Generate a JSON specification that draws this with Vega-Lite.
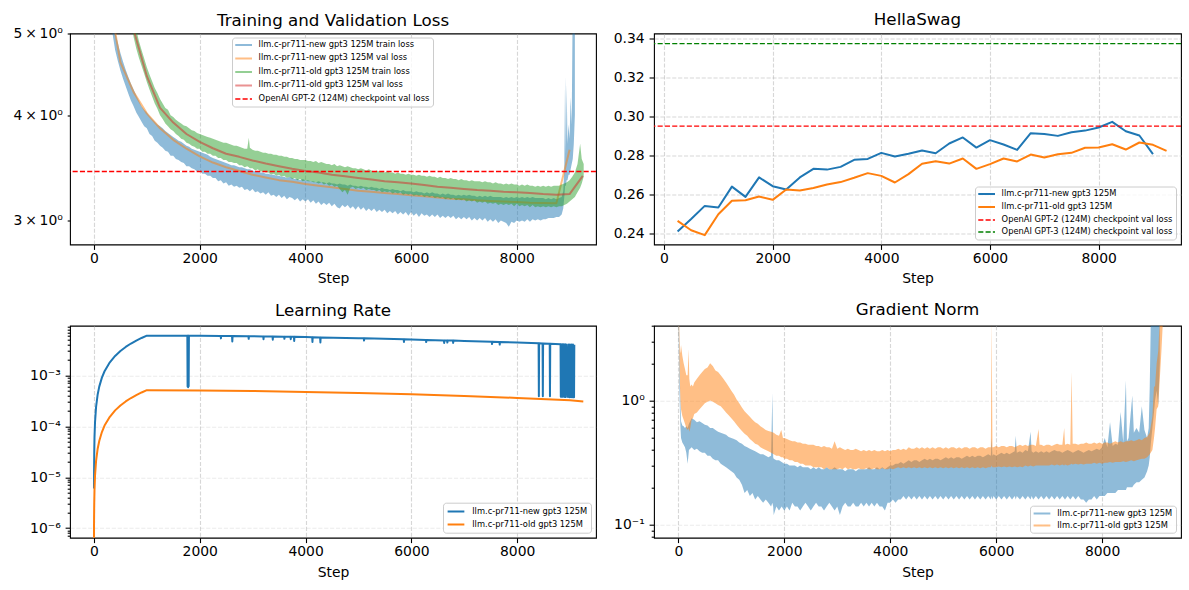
{
"$schema":"https://vega.github.io/schema/vega-lite/v6.json",
"padding":{"left":9,"top":10.5,"right":5,"bottom":5},
"background":"white",
"config":{
 "font":"DejaVu Sans",
 "view":{"stroke":"black","strokeWidth":1.1},
 "axis":{"labelFont":"DejaVu Sans","labelFontSize":13.9,"labelColor":"black","titleFont":"DejaVu Sans","titleFontSize":13.9,"titleFontWeight":"normal","titleColor":"black","tickColor":"black","tickWidth":1.1,"tickSize":4.9,"labelPadding":4.9,"domain":false,"grid":true,"gridColor":"#b0b0b0","gridOpacity":0.5,"gridWidth":1.1,"gridDash":[4.1,1.8],"labelFlush":false,"labelOverlap":false,"titlePadding":5},
 "axisX":{"labelPadding":2,"titlePadding":6.5},
 "title":{"font":"DejaVu Sans","fontSize":16.7,"fontWeight":"normal","color":"black","anchor":"middle","baseline":"alphabetic","offset":8.7},
 "legend":{"labelFont":"DejaVu Sans","labelFontSize":8.3,"labelColor":"black","fillColor":"rgba(255,255,255,0.8)","strokeColor":"#cccccc","cornerRadius":3,"padding":3.3,"symbolSize":70,"labelOffset":15,"rowPadding":3,"labelLimit":300,"symbolStrokeWidth":2,"symbolType":"M-1,0H3","title":null}
},
"datasets":{
"trainloss":[
{"s":"a","x":350,"l":5.0,"h":5.5},{"s":"a","x":400,"l":4.78,"h":5.02},{"s":"a","x":450,"l":4.64,"h":4.88},{"s":"a","x":500,"l":4.52,"h":4.74},{"s":"a","x":550,"l":4.42,"h":4.63},{"s":"a","x":600,"l":4.33,"h":4.53},{"s":"a","x":650,"l":4.24,"h":4.44},{"s":"a","x":700,"l":4.16,"h":4.36},{"s":"a","x":750,"l":4.1,"h":4.29},{"s":"a","x":800,"l":4.03,"h":4.22},{"s":"a","x":850,"l":3.98,"h":4.16},{"s":"a","x":900,"l":3.93,"h":4.1},{"s":"a","x":950,"l":3.88,"h":4.06},{"s":"a","x":1000,"l":3.86,"h":4.03},{"s":"a","x":1050,"l":3.8,"h":3.99},{"s":"a","x":1100,"l":3.78,"h":3.96},{"s":"a","x":1150,"l":3.73,"h":3.93},{"s":"a","x":1200,"l":3.71,"h":3.9},{"s":"a","x":1250,"l":3.68,"h":3.88},{"s":"a","x":1300,"l":3.66,"h":3.86},{"s":"a","x":1350,"l":3.63,"h":3.83},{"s":"a","x":1400,"l":3.62,"h":3.81},{"s":"a","x":1450,"l":3.58,"h":3.79},{"s":"a","x":1500,"l":3.58,"h":3.77},{"s":"a","x":1550,"l":3.55,"h":3.75},{"s":"a","x":1600,"l":3.54,"h":3.73},{"s":"a","x":1650,"l":3.52,"h":3.72},{"s":"a","x":1700,"l":3.51,"h":3.7},{"s":"a","x":1750,"l":3.48,"h":3.68},{"s":"a","x":1800,"l":3.48,"h":3.67},{"s":"a","x":1850,"l":3.46,"h":3.65},{"s":"a","x":1900,"l":3.45,"h":3.64},{"s":"a","x":1950,"l":3.43,"h":3.63},{"s":"a","x":2000,"l":3.44,"h":3.62},{"s":"a","x":2050,"l":3.41,"h":3.61},{"s":"a","x":2100,"l":3.41,"h":3.6},{"s":"a","x":2150,"l":3.39,"h":3.59},{"s":"a","x":2200,"l":3.39,"h":3.57},{"s":"a","x":2250,"l":3.37,"h":3.56},{"s":"a","x":2300,"l":3.37,"h":3.55},{"s":"a","x":2350,"l":3.34,"h":3.54},{"s":"a","x":2400,"l":3.35,"h":3.53},{"s":"a","x":2450,"l":3.32,"h":3.52},{"s":"a","x":2500,"l":3.33,"h":3.51},{"s":"a","x":2550,"l":3.3,"h":3.5},{"s":"a","x":2600,"l":3.31,"h":3.49},{"s":"a","x":2650,"l":3.29,"h":3.49},{"s":"a","x":2700,"l":3.3,"h":3.48},{"s":"a","x":2750,"l":3.28,"h":3.47},{"s":"a","x":2800,"l":3.29,"h":3.47},{"s":"a","x":2850,"l":3.26,"h":3.46},{"s":"a","x":2900,"l":3.27,"h":3.45},{"s":"a","x":2950,"l":3.25,"h":3.45},{"s":"a","x":3000,"l":3.27,"h":3.44},{"s":"a","x":3050,"l":3.24,"h":3.43},{"s":"a","x":3100,"l":3.25,"h":3.43},{"s":"a","x":3150,"l":3.23,"h":3.42},{"s":"a","x":3200,"l":3.24,"h":3.42},{"s":"a","x":3250,"l":3.22,"h":3.41},{"s":"a","x":3300,"l":3.24,"h":3.41},{"s":"a","x":3350,"l":3.21,"h":3.4},{"s":"a","x":3400,"l":3.22,"h":3.4},{"s":"a","x":3450,"l":3.2,"h":3.39},{"s":"a","x":3500,"l":3.22,"h":3.39},{"s":"a","x":3550,"l":3.19,"h":3.38},{"s":"a","x":3600,"l":3.21,"h":3.38},{"s":"a","x":3650,"l":3.18,"h":3.37},{"s":"a","x":3700,"l":3.2,"h":3.38},{"s":"a","x":3750,"l":3.19,"h":3.37},{"s":"a","x":3800,"l":3.17,"h":3.36},{"s":"a","x":3850,"l":3.19,"h":3.36},{"s":"a","x":3900,"l":3.16,"h":3.35},{"s":"a","x":3950,"l":3.18,"h":3.36},{"s":"a","x":4000,"l":3.16,"h":3.35},{"s":"a","x":4050,"l":3.18,"h":3.35},{"s":"a","x":4100,"l":3.15,"h":3.34},{"s":"a","x":4150,"l":3.17,"h":3.34},{"s":"a","x":4200,"l":3.14,"h":3.33},{"s":"a","x":4250,"l":3.16,"h":3.34},{"s":"a","x":4300,"l":3.13,"h":3.33},{"s":"a","x":4350,"l":3.15,"h":3.33},{"s":"a","x":4400,"l":3.13,"h":3.32},{"s":"a","x":4450,"l":3.15,"h":3.33},{"s":"a","x":4500,"l":3.12,"h":3.32},{"s":"a","x":4550,"l":3.14,"h":3.32},{"s":"a","x":4600,"l":3.11,"h":3.31},{"s":"a","x":4650,"l":3.1,"h":3.32},{"s":"a","x":4700,"l":3.13,"h":3.31},{"s":"a","x":4750,"l":3.11,"h":3.31},{"s":"a","x":4800,"l":3.13,"h":3.3},{"s":"a","x":4850,"l":3.1,"h":3.31},{"s":"a","x":4900,"l":3.12,"h":3.3},{"s":"a","x":4950,"l":3.09,"h":3.3},{"s":"a","x":5000,"l":3.12,"h":3.29},{"s":"a","x":5050,"l":3.09,"h":3.3},{"s":"a","x":5100,"l":3.11,"h":3.29},{"s":"a","x":5150,"l":3.08,"h":3.29},{"s":"a","x":5200,"l":3.1,"h":3.28},{"s":"a","x":5250,"l":3.08,"h":3.29},{"s":"a","x":5300,"l":3.1,"h":3.28},{"s":"a","x":5350,"l":3.07,"h":3.28},{"s":"a","x":5400,"l":3.09,"h":3.27},{"s":"a","x":5450,"l":3.07,"h":3.28},{"s":"a","x":5500,"l":3.09,"h":3.27},{"s":"a","x":5550,"l":3.06,"h":3.27},{"s":"a","x":5600,"l":3.08,"h":3.26},{"s":"a","x":5650,"l":3.06,"h":3.27},{"s":"a","x":5700,"l":3.08,"h":3.26},{"s":"a","x":5750,"l":3.05,"h":3.26},{"s":"a","x":5800,"l":3.07,"h":3.25},{"s":"a","x":5850,"l":3.05,"h":3.26},{"s":"a","x":5900,"l":3.07,"h":3.25},{"s":"a","x":5950,"l":3.04,"h":3.25},{"s":"a","x":6000,"l":3.07,"h":3.25},{"s":"a","x":6050,"l":3.04,"h":3.24},{"s":"a","x":6100,"l":3.06,"h":3.25},{"s":"a","x":6150,"l":3.03,"h":3.24},{"s":"a","x":6200,"l":3.06,"h":3.24},{"s":"a","x":6250,"l":3.04,"h":3.23},{"s":"a","x":6300,"l":3.05,"h":3.24},{"s":"a","x":6350,"l":3.03,"h":3.23},{"s":"a","x":6400,"l":3.05,"h":3.24},{"s":"a","x":6450,"l":3.03,"h":3.23},{"s":"a","x":6500,"l":3.05,"h":3.23},{"s":"a","x":6550,"l":3.02,"h":3.22},{"s":"a","x":6600,"l":3.04,"h":3.23},{"s":"a","x":6650,"l":3.02,"h":3.22},{"s":"a","x":6700,"l":3.04,"h":3.23},{"s":"a","x":6750,"l":3.02,"h":3.22},{"s":"a","x":6800,"l":3.04,"h":3.22},{"s":"a","x":6850,"l":3.01,"h":3.21},{"s":"a","x":6900,"l":3.03,"h":3.22},{"s":"a","x":6950,"l":3.01,"h":3.21},{"s":"a","x":7000,"l":3.03,"h":3.22},{"s":"a","x":7050,"l":3.01,"h":3.21},{"s":"a","x":7100,"l":3.03,"h":3.22},{"s":"a","x":7150,"l":3.0,"h":3.21},{"s":"a","x":7200,"l":3.02,"h":3.21},{"s":"a","x":7250,"l":3.0,"h":3.2},{"s":"a","x":7300,"l":3.02,"h":3.21},{"s":"a","x":7350,"l":3.0,"h":3.2},{"s":"a","x":7400,"l":3.02,"h":3.21},{"s":"a","x":7450,"l":2.99,"h":3.2},{"s":"a","x":7500,"l":3.01,"h":3.21},{"s":"a","x":7550,"l":2.99,"h":3.2},{"s":"a","x":7600,"l":3.01,"h":3.2},{"s":"a","x":7650,"l":2.98,"h":3.2},{"s":"a","x":7700,"l":3.0,"h":3.2},{"s":"a","x":7750,"l":2.99,"h":3.19},{"s":"a","x":7800,"l":2.98,"h":3.2},{"s":"a","x":7850,"l":2.95,"h":3.19},{"s":"a","x":7900,"l":2.99,"h":3.2},{"s":"a","x":7950,"l":2.98,"h":3.19},{"s":"a","x":8000,"l":3.0,"h":3.2},{"s":"a","x":8050,"l":2.99,"h":3.19},{"s":"a","x":8100,"l":3.0,"h":3.2},{"s":"a","x":8150,"l":2.99,"h":3.19},{"s":"a","x":8200,"l":3.01,"h":3.2},{"s":"a","x":8250,"l":2.99,"h":3.19},{"s":"a","x":8300,"l":3.01,"h":3.2},{"s":"a","x":8350,"l":3.0,"h":3.19},{"s":"a","x":8400,"l":3.01,"h":3.19},{"s":"a","x":8450,"l":3.0,"h":3.19},{"s":"a","x":8500,"l":3.01,"h":3.19},{"s":"a","x":8550,"l":3.01,"h":3.18},{"s":"a","x":8600,"l":3.02,"h":3.19},{"s":"a","x":8650,"l":3.02,"h":3.18},{"s":"a","x":8700,"l":3.02,"h":3.19},{"s":"a","x":8750,"l":3.03,"h":3.18},{"s":"a","x":8800,"l":3.03,"h":3.19},{"s":"a","x":8850,"l":3.05,"h":3.2},{"s":"a","x":8880,"l":3.1,"h":3.25},{"s":"a","x":8900,"l":3.2,"h":3.45},{"s":"a","x":8915,"l":3.3,"h":4.45},{"s":"a","x":8930,"l":3.3,"h":3.6},{"s":"a","x":8945,"l":3.35,"h":4.35},{"s":"a","x":8960,"l":3.35,"h":3.7},{"s":"a","x":8980,"l":3.4,"h":3.9},{"s":"a","x":9000,"l":3.4,"h":3.75},{"s":"a","x":9020,"l":3.45,"h":4.2},{"s":"a","x":9040,"l":3.5,"h":3.9},{"s":"a","x":9060,"l":3.55,"h":5.5},{"s":"a","x":9080,"l":3.7,"h":5.5},{"s":"a","x":9100,"l":4.0,"h":5.5},
{"s":"c","x":700,"l":5.15,"h":5.5},{"s":"c","x":750,"l":4.95,"h":5.2},{"s":"c","x":800,"l":4.8,"h":5.05},{"s":"c","x":850,"l":4.68,"h":4.9},{"s":"c","x":900,"l":4.58,"h":4.78},{"s":"c","x":950,"l":4.48,"h":4.67},{"s":"c","x":1000,"l":4.38,"h":4.56},{"s":"c","x":1050,"l":4.29,"h":4.47},{"s":"c","x":1100,"l":4.21,"h":4.39},{"s":"c","x":1150,"l":4.13,"h":4.31},{"s":"c","x":1200,"l":4.07,"h":4.25},{"s":"c","x":1250,"l":4.0,"h":4.18},{"s":"c","x":1300,"l":3.96,"h":4.13},{"s":"c","x":1350,"l":3.91,"h":4.08},{"s":"c","x":1400,"l":3.88,"h":4.06},{"s":"c","x":1450,"l":3.85,"h":4.0},{"s":"c","x":1500,"l":3.83,"h":3.98},{"s":"c","x":1550,"l":3.8,"h":3.95},{"s":"c","x":1600,"l":3.78,"h":3.93},{"s":"c","x":1650,"l":3.75,"h":3.91},{"s":"c","x":1700,"l":3.74,"h":3.89},{"s":"c","x":1750,"l":3.71,"h":3.88},{"s":"c","x":1800,"l":3.7,"h":3.86},{"s":"c","x":1850,"l":3.68,"h":3.84},{"s":"c","x":1900,"l":3.67,"h":3.83},{"s":"c","x":1950,"l":3.65,"h":3.81},{"s":"c","x":2000,"l":3.65,"h":3.8},{"s":"c","x":2050,"l":3.62,"h":3.79},{"s":"c","x":2100,"l":3.62,"h":3.78},{"s":"c","x":2150,"l":3.6,"h":3.77},{"s":"c","x":2200,"l":3.6,"h":3.76},{"s":"c","x":2250,"l":3.58,"h":3.75},{"s":"c","x":2300,"l":3.58,"h":3.74},{"s":"c","x":2350,"l":3.56,"h":3.73},{"s":"c","x":2400,"l":3.56,"h":3.72},{"s":"c","x":2450,"l":3.54,"h":3.71},{"s":"c","x":2500,"l":3.54,"h":3.71},{"s":"c","x":2550,"l":3.52,"h":3.7},{"s":"c","x":2600,"l":3.52,"h":3.69},{"s":"c","x":2650,"l":3.51,"h":3.68},{"s":"c","x":2700,"l":3.51,"h":3.68},{"s":"c","x":2750,"l":3.49,"h":3.67},{"s":"c","x":2800,"l":3.49,"h":3.66},{"s":"c","x":2850,"l":3.47,"h":3.65},{"s":"c","x":2900,"l":3.48,"h":3.65},{"s":"c","x":2930,"l":3.47,"h":3.76},{"s":"c","x":2950,"l":3.46,"h":3.66},{"s":"c","x":3000,"l":3.46,"h":3.64},{"s":"c","x":3050,"l":3.44,"h":3.63},{"s":"c","x":3100,"l":3.45,"h":3.63},{"s":"c","x":3150,"l":3.43,"h":3.62},{"s":"c","x":3200,"l":3.43,"h":3.61},{"s":"c","x":3250,"l":3.42,"h":3.61},{"s":"c","x":3300,"l":3.42,"h":3.6},{"s":"c","x":3350,"l":3.4,"h":3.6},{"s":"c","x":3400,"l":3.41,"h":3.59},{"s":"c","x":3450,"l":3.39,"h":3.59},{"s":"c","x":3500,"l":3.4,"h":3.58},{"s":"c","x":3550,"l":3.38,"h":3.58},{"s":"c","x":3600,"l":3.39,"h":3.57},{"s":"c","x":3650,"l":3.37,"h":3.57},{"s":"c","x":3700,"l":3.38,"h":3.56},{"s":"c","x":3750,"l":3.36,"h":3.56},{"s":"c","x":3800,"l":3.37,"h":3.55},{"s":"c","x":3850,"l":3.35,"h":3.55},{"s":"c","x":3900,"l":3.36,"h":3.54},{"s":"c","x":3950,"l":3.34,"h":3.54},{"s":"c","x":4000,"l":3.35,"h":3.54},{"s":"c","x":4050,"l":3.34,"h":3.53},{"s":"c","x":4100,"l":3.34,"h":3.53},{"s":"c","x":4150,"l":3.33,"h":3.52},{"s":"c","x":4200,"l":3.33,"h":3.53},{"s":"c","x":4250,"l":3.32,"h":3.51},{"s":"c","x":4300,"l":3.33,"h":3.52},{"s":"c","x":4350,"l":3.31,"h":3.51},{"s":"c","x":4400,"l":3.32,"h":3.5},{"s":"c","x":4450,"l":3.3,"h":3.5},{"s":"c","x":4500,"l":3.31,"h":3.49},{"s":"c","x":4550,"l":3.29,"h":3.5},{"s":"c","x":4600,"l":3.3,"h":3.48},{"s":"c","x":4650,"l":3.27,"h":3.49},{"s":"c","x":4700,"l":3.24,"h":3.48},{"s":"c","x":4750,"l":3.26,"h":3.47},{"s":"c","x":4800,"l":3.22,"h":3.48},{"s":"c","x":4850,"l":3.28,"h":3.47},{"s":"c","x":4900,"l":3.29,"h":3.46},{"s":"c","x":4950,"l":3.27,"h":3.46},{"s":"c","x":5000,"l":3.28,"h":3.45},{"s":"c","x":5050,"l":3.27,"h":3.46},{"s":"c","x":5100,"l":3.28,"h":3.45},{"s":"c","x":5150,"l":3.26,"h":3.44},{"s":"c","x":5200,"l":3.27,"h":3.45},{"s":"c","x":5250,"l":3.26,"h":3.44},{"s":"c","x":5300,"l":3.26,"h":3.43},{"s":"c","x":5350,"l":3.25,"h":3.44},{"s":"c","x":5400,"l":3.26,"h":3.43},{"s":"c","x":5450,"l":3.24,"h":3.43},{"s":"c","x":5500,"l":3.25,"h":3.42},{"s":"c","x":5550,"l":3.24,"h":3.43},{"s":"c","x":5600,"l":3.25,"h":3.42},{"s":"c","x":5650,"l":3.23,"h":3.42},{"s":"c","x":5700,"l":3.24,"h":3.41},{"s":"c","x":5750,"l":3.23,"h":3.42},{"s":"c","x":5800,"l":3.24,"h":3.41},{"s":"c","x":5850,"l":3.22,"h":3.41},{"s":"c","x":5900,"l":3.23,"h":3.4},{"s":"c","x":5950,"l":3.22,"h":3.41},{"s":"c","x":6000,"l":3.23,"h":3.4},{"s":"c","x":6050,"l":3.21,"h":3.4},{"s":"c","x":6100,"l":3.22,"h":3.39},{"s":"c","x":6150,"l":3.21,"h":3.4},{"s":"c","x":6200,"l":3.22,"h":3.39},{"s":"c","x":6250,"l":3.2,"h":3.39},{"s":"c","x":6300,"l":3.21,"h":3.38},{"s":"c","x":6350,"l":3.2,"h":3.39},{"s":"c","x":6400,"l":3.21,"h":3.38},{"s":"c","x":6450,"l":3.19,"h":3.38},{"s":"c","x":6500,"l":3.2,"h":3.37},{"s":"c","x":6550,"l":3.19,"h":3.38},{"s":"c","x":6600,"l":3.2,"h":3.37},{"s":"c","x":6650,"l":3.18,"h":3.37},{"s":"c","x":6700,"l":3.19,"h":3.36},{"s":"c","x":6750,"l":3.18,"h":3.37},{"s":"c","x":6800,"l":3.19,"h":3.36},{"s":"c","x":6850,"l":3.17,"h":3.36},{"s":"c","x":6900,"l":3.18,"h":3.35},{"s":"c","x":6950,"l":3.17,"h":3.36},{"s":"c","x":7000,"l":3.18,"h":3.35},{"s":"c","x":7050,"l":3.16,"h":3.35},{"s":"c","x":7100,"l":3.17,"h":3.34},{"s":"c","x":7150,"l":3.16,"h":3.35},{"s":"c","x":7200,"l":3.17,"h":3.34},{"s":"c","x":7250,"l":3.15,"h":3.34},{"s":"c","x":7300,"l":3.16,"h":3.34},{"s":"c","x":7350,"l":3.15,"h":3.33},{"s":"c","x":7400,"l":3.16,"h":3.34},{"s":"c","x":7450,"l":3.14,"h":3.33},{"s":"c","x":7500,"l":3.15,"h":3.33},{"s":"c","x":7550,"l":3.14,"h":3.32},{"s":"c","x":7600,"l":3.15,"h":3.33},{"s":"c","x":7650,"l":3.13,"h":3.32},{"s":"c","x":7700,"l":3.14,"h":3.32},{"s":"c","x":7750,"l":3.13,"h":3.31},{"s":"c","x":7800,"l":3.14,"h":3.32},{"s":"c","x":7850,"l":3.13,"h":3.31},{"s":"c","x":7900,"l":3.14,"h":3.32},{"s":"c","x":7950,"l":3.12,"h":3.31},{"s":"c","x":8000,"l":3.14,"h":3.31},{"s":"c","x":8050,"l":3.12,"h":3.3},{"s":"c","x":8100,"l":3.13,"h":3.31},{"s":"c","x":8150,"l":3.12,"h":3.3},{"s":"c","x":8200,"l":3.13,"h":3.31},{"s":"c","x":8250,"l":3.11,"h":3.3},{"s":"c","x":8300,"l":3.13,"h":3.3},{"s":"c","x":8350,"l":3.11,"h":3.29},{"s":"c","x":8400,"l":3.12,"h":3.3},{"s":"c","x":8450,"l":3.11,"h":3.29},{"s":"c","x":8500,"l":3.12,"h":3.3},{"s":"c","x":8550,"l":3.11,"h":3.29},{"s":"c","x":8600,"l":3.12,"h":3.3},{"s":"c","x":8650,"l":3.11,"h":3.29},{"s":"c","x":8700,"l":3.12,"h":3.3},{"s":"c","x":8750,"l":3.11,"h":3.3},{"s":"c","x":8800,"l":3.12,"h":3.3},{"s":"c","x":8850,"l":3.12,"h":3.31},{"s":"c","x":8900,"l":3.13,"h":3.32},{"s":"c","x":8950,"l":3.14,"h":3.33},{"s":"c","x":9000,"l":3.16,"h":3.35},{"s":"c","x":9050,"l":3.18,"h":3.38},{"s":"c","x":9100,"l":3.2,"h":3.42},{"s":"c","x":9150,"l":3.24,"h":3.5},{"s":"c","x":9200,"l":3.28,"h":3.7},{"s":"c","x":9230,"l":3.32,"h":3.55},{"s":"c","x":9267,"l":3.38,"h":3.5}
],
"valloss":[
{"s":"b","x":250,"y":5.7},{"s":"b","x":500,"y":4.62},{"s":"b","x":750,"y":4.26},{"s":"b","x":1000,"y":4.02},{"s":"b","x":1250,"y":3.86},{"s":"b","x":1500,"y":3.74},{"s":"b","x":1750,"y":3.65},{"s":"b","x":2000,"y":3.575},{"s":"b","x":2250,"y":3.515},{"s":"b","x":2500,"y":3.47},{"s":"b","x":2750,"y":3.435},{"s":"b","x":3000,"y":3.4},{"s":"b","x":3250,"y":3.375},{"s":"b","x":3500,"y":3.35},{"s":"b","x":3750,"y":3.335},{"s":"b","x":4000,"y":3.315},{"s":"b","x":4250,"y":3.3},{"s":"b","x":4500,"y":3.285},{"s":"b","x":4750,"y":3.27},{"s":"b","x":5000,"y":3.255},{"s":"b","x":5250,"y":3.245},{"s":"b","x":5500,"y":3.235},{"s":"b","x":5750,"y":3.225},{"s":"b","x":6000,"y":3.215},{"s":"b","x":6250,"y":3.205},{"s":"b","x":6500,"y":3.195},{"s":"b","x":6750,"y":3.185},{"s":"b","x":7000,"y":3.18},{"s":"b","x":7250,"y":3.17},{"s":"b","x":7500,"y":3.165},{"s":"b","x":7750,"y":3.16},{"s":"b","x":8000,"y":3.155},{"s":"b","x":8250,"y":3.15},{"s":"b","x":8500,"y":3.148},{"s":"b","x":8750,"y":3.145},{"s":"b","x":9000,"y":3.64},
{"s":"d","x":750,"y":5.05},{"s":"d","x":1000,"y":4.45},{"s":"d","x":1250,"y":4.08},{"s":"d","x":1500,"y":3.92},{"s":"d","x":1750,"y":3.8},{"s":"d","x":2000,"y":3.72},{"s":"d","x":2250,"y":3.655},{"s":"d","x":2500,"y":3.6},{"s":"d","x":2750,"y":3.57},{"s":"d","x":3000,"y":3.535},{"s":"d","x":3250,"y":3.505},{"s":"d","x":3500,"y":3.48},{"s":"d","x":3750,"y":3.455},{"s":"d","x":4000,"y":3.435},{"s":"d","x":4250,"y":3.42},{"s":"d","x":4500,"y":3.4},{"s":"d","x":4750,"y":3.385},{"s":"d","x":5000,"y":3.37},{"s":"d","x":5250,"y":3.355},{"s":"d","x":5500,"y":3.34},{"s":"d","x":5750,"y":3.33},{"s":"d","x":6000,"y":3.32},{"s":"d","x":6250,"y":3.305},{"s":"d","x":6500,"y":3.29},{"s":"d","x":6750,"y":3.28},{"s":"d","x":7000,"y":3.27},{"s":"d","x":7250,"y":3.26},{"s":"d","x":7500,"y":3.255},{"s":"d","x":7750,"y":3.245},{"s":"d","x":8000,"y":3.24},{"s":"d","x":8250,"y":3.235},{"s":"d","x":8500,"y":3.225},{"s":"d","x":8750,"y":3.22},{"s":"d","x":9000,"y":3.225},{"s":"d","x":9250,"y":3.39}
],
"hs":[
{"s":"a","x":250,"y":0.2409},{"s":"a","x":500,"y":0.2473},{"s":"a","x":750,"y":0.254},{"s":"a","x":1000,"y":0.2532},{"s":"a","x":1250,"y":0.2639},{"s":"a","x":1500,"y":0.2586},{"s":"a","x":1750,"y":0.2686},{"s":"a","x":2000,"y":0.2641},{"s":"a","x":2250,"y":0.2624},{"s":"a","x":2500,"y":0.2686},{"s":"a","x":2750,"y":0.273},{"s":"a","x":3000,"y":0.2726},{"s":"a","x":3250,"y":0.274},{"s":"a","x":3500,"y":0.2776},{"s":"a","x":3750,"y":0.2781},{"s":"a","x":4000,"y":0.2812},{"s":"a","x":4250,"y":0.2793},{"s":"a","x":4500,"y":0.2807},{"s":"a","x":4750,"y":0.2824},{"s":"a","x":5000,"y":0.281},{"s":"a","x":5250,"y":0.286},{"s":"a","x":5500,"y":0.2891},{"s":"a","x":5750,"y":0.2839},{"s":"a","x":6000,"y":0.2877},{"s":"a","x":6250,"y":0.2855},{"s":"a","x":6500,"y":0.2827},{"s":"a","x":6750,"y":0.2913},{"s":"a","x":7000,"y":0.2909},{"s":"a","x":7250,"y":0.2899},{"s":"a","x":7500,"y":0.2918},{"s":"a","x":7750,"y":0.2926},{"s":"a","x":8000,"y":0.2942},{"s":"a","x":8250,"y":0.2971},{"s":"a","x":8500,"y":0.2923},{"s":"a","x":8750,"y":0.2901},{"s":"a","x":9000,"y":0.2805},
{"s":"b","x":250,"y":0.2463},{"s":"b","x":500,"y":0.2415},{"s":"b","x":750,"y":0.239},{"s":"b","x":1000,"y":0.2497},{"s":"b","x":1250,"y":0.2566},{"s":"b","x":1500,"y":0.2569},{"s":"b","x":1750,"y":0.2588},{"s":"b","x":2000,"y":0.2571},{"s":"b","x":2250,"y":0.2624},{"s":"b","x":2500,"y":0.2619},{"s":"b","x":2750,"y":0.2632},{"s":"b","x":3000,"y":0.265},{"s":"b","x":3250,"y":0.2662},{"s":"b","x":3500,"y":0.2684},{"s":"b","x":3750,"y":0.2708},{"s":"b","x":4000,"y":0.2694},{"s":"b","x":4250,"y":0.266},{"s":"b","x":4500,"y":0.2703},{"s":"b","x":4750,"y":0.2756},{"s":"b","x":5000,"y":0.2769},{"s":"b","x":5250,"y":0.2757},{"s":"b","x":5500,"y":0.2783},{"s":"b","x":5750,"y":0.273},{"s":"b","x":6000,"y":0.2754},{"s":"b","x":6250,"y":0.2783},{"s":"b","x":6500,"y":0.2768},{"s":"b","x":6750,"y":0.2803},{"s":"b","x":7000,"y":0.2788},{"s":"b","x":7250,"y":0.2805},{"s":"b","x":7500,"y":0.2812},{"s":"b","x":7750,"y":0.2838},{"s":"b","x":8000,"y":0.2839},{"s":"b","x":8250,"y":0.2856},{"s":"b","x":8500,"y":0.2829},{"s":"b","x":8750,"y":0.2865},{"s":"b","x":9000,"y":0.2853},{"s":"b","x":9250,"y":0.2822}
],
"lr":[
{"s":"a","x":1,"y":0.000006},{"s":"a","x":2,"y":0.000012},{"s":"a","x":5,"y":0.00003},{"s":"a","x":10,"y":0.00006},{"s":"a","x":20,"y":0.00012},{"s":"a","x":40,"y":0.00024},{"s":"a","x":70,"y":0.00042},{"s":"a","x":100,"y":0.0006},{"s":"a","x":150,"y":0.0009},{"s":"a","x":200,"y":0.0012},{"s":"a","x":300,"y":0.0018},{"s":"a","x":400,"y":0.0024},{"s":"a","x":500,"y":0.003},{"s":"a","x":600,"y":0.0036},{"s":"a","x":700,"y":0.0042},{"s":"a","x":800,"y":0.0048},{"s":"a","x":900,"y":0.0054},{"s":"a","x":1000,"y":0.006},{"s":"a","x":1500,"y":0.006},{"s":"a","x":1765,"y":0.00597},{"s":"a","x":1770,"y":0.0006},{"s":"a","x":1775,"y":0.00597},{"s":"a","x":1780,"y":0.00058},{"s":"a","x":1785,"y":0.00597},{"s":"a","x":1790,"y":0.00061},{"s":"a","x":1795,"y":0.00597},{"s":"a","x":2000,"y":0.00595},{"s":"a","x":2395,"y":0.0059},{"s":"a","x":2400,"y":0.0053},{"s":"a","x":2405,"y":0.0059},{"s":"a","x":2610,"y":0.00588},{"s":"a","x":2615,"y":0.0046},{"s":"a","x":2620,"y":0.00588},{"s":"a","x":2920,"y":0.00585},{"s":"a","x":2925,"y":0.0052},{"s":"a","x":2930,"y":0.00585},{"s":"a","x":3200,"y":0.0058},{"s":"a","x":3205,"y":0.0051},{"s":"a","x":3210,"y":0.0058},{"s":"a","x":3375,"y":0.00577},{"s":"a","x":3380,"y":0.005},{"s":"a","x":3385,"y":0.00577},{"s":"a","x":3595,"y":0.00573},{"s":"a","x":3600,"y":0.0052},{"s":"a","x":3605,"y":0.00573},{"s":"a","x":3715,"y":0.0057},{"s":"a","x":3720,"y":0.0051},{"s":"a","x":3725,"y":0.0057},{"s":"a","x":3780,"y":0.00569},{"s":"a","x":3785,"y":0.0047},{"s":"a","x":3790,"y":0.00569},{"s":"a","x":4000,"y":0.00562},{"s":"a","x":4125,"y":0.00558},{"s":"a","x":4130,"y":0.0045},{"s":"a","x":4135,"y":0.00558},{"s":"a","x":4275,"y":0.00554},{"s":"a","x":4280,"y":0.0044},{"s":"a","x":4285,"y":0.00554},{"s":"a","x":5000,"y":0.00535},{"s":"a","x":5100,"y":0.00532},{"s":"a","x":5105,"y":0.0048},{"s":"a","x":5110,"y":0.00532},{"s":"a","x":5855,"y":0.00507},{"s":"a","x":5860,"y":0.0045},{"s":"a","x":5865,"y":0.00507},{"s":"a","x":6000,"y":0.00502},{"s":"a","x":6275,"y":0.00494},{"s":"a","x":6280,"y":0.0045},{"s":"a","x":6285,"y":0.00494},{"s":"a","x":6615,"y":0.00484},{"s":"a","x":6620,"y":0.0043},{"s":"a","x":6625,"y":0.00484},{"s":"a","x":6675,"y":0.00482},{"s":"a","x":6680,"y":0.0044},{"s":"a","x":6685,"y":0.00482},{"s":"a","x":6785,"y":0.00479},{"s":"a","x":6790,"y":0.0043},{"s":"a","x":6795,"y":0.00479},{"s":"a","x":7000,"y":0.00473},{"s":"a","x":7520,"y":0.00456},{"s":"a","x":7525,"y":0.0041},{"s":"a","x":7530,"y":0.00456},{"s":"a","x":7665,"y":0.00452},{"s":"a","x":7670,"y":0.004},{"s":"a","x":7675,"y":0.00452},{"s":"a","x":8000,"y":0.0044},{"s":"a","x":8405,"y":0.00424},{"s":"a","x":8410,"y":0.00039},{"s":"a","x":8415,"y":0.00424},{"s":"a","x":8480,"y":0.00421},{"s":"a","x":8485,"y":0.00039},{"s":"a","x":8490,"y":0.00421},{"s":"a","x":8615,"y":0.00416},{"s":"a","x":8620,"y":0.00039},{"s":"a","x":8625,"y":0.00416},{"s":"a","x":8820,"y":0.00408},{"s":"a","x":8825,"y":0.00038},{"s":"a","x":8830,"y":0.00408},{"s":"a","x":8850,"y":0.00038},{"s":"a","x":8855,"y":0.00407},{"s":"a","x":8870,"y":0.00038},{"s":"a","x":8875,"y":0.00406},{"s":"a","x":8900,"y":0.000375},{"s":"a","x":8905,"y":0.00405},{"s":"a","x":8920,"y":0.000375},{"s":"a","x":8925,"y":0.00404},{"s":"a","x":8960,"y":0.000375},{"s":"a","x":8965,"y":0.00403},{"s":"a","x":8990,"y":0.00037},{"s":"a","x":8995,"y":0.00402},{"s":"a","x":9020,"y":0.00037},{"s":"a","x":9025,"y":0.00401},{"s":"a","x":9050,"y":0.00037},{"s":"a","x":9055,"y":0.004},{"s":"a","x":9075,"y":0.00037},{"s":"a","x":9080,"y":0.00398},
{"s":"b","x":0,"y":0.00000051},{"s":"b","x":1,"y":0.00000102},{"s":"b","x":2,"y":0.00000153},{"s":"b","x":5,"y":0.00000306},{"s":"b","x":10,"y":0.0000056},{"s":"b","x":20,"y":0.0000107},{"s":"b","x":40,"y":0.0000209},{"s":"b","x":70,"y":0.0000362},{"s":"b","x":100,"y":0.0000515},{"s":"b","x":150,"y":0.000077},{"s":"b","x":200,"y":0.000103},{"s":"b","x":300,"y":0.000153},{"s":"b","x":400,"y":0.000205},{"s":"b","x":500,"y":0.000256},{"s":"b","x":600,"y":0.000307},{"s":"b","x":700,"y":0.000358},{"s":"b","x":800,"y":0.000408},{"s":"b","x":900,"y":0.00046},{"s":"b","x":1000,"y":0.00051},{"s":"b","x":2000,"y":0.000505},{"s":"b","x":3000,"y":0.000493},{"s":"b","x":4000,"y":0.000472},{"s":"b","x":5000,"y":0.00045},{"s":"b","x":6000,"y":0.000424},{"s":"b","x":7000,"y":0.000394},{"s":"b","x":8000,"y":0.00036},{"s":"b","x":9000,"y":0.000322},{"s":"b","x":9250,"y":0.000305}
],
"gn":[
{"s":"a","x":0,"l":5,"h":9},{"s":"a","x":10,"l":2.5,"h":5},{"s":"a","x":20,"l":1.2,"h":2.5},{"s":"a","x":30,"l":0.8,"h":1.4},{"s":"a","x":40,"l":0.6,"h":0.9},{"s":"a","x":50,"l":0.5,"h":0.68},{"s":"a","x":75,"l":0.46,"h":0.63},{"s":"a","x":100,"l":0.44,"h":0.62},{"s":"a","x":125,"l":0.42,"h":0.6},{"s":"a","x":150,"l":0.38,"h":0.62},{"s":"a","x":175,"l":0.31,"h":0.6},{"s":"a","x":200,"l":0.4,"h":0.65},{"s":"a","x":250,"l":0.42,"h":0.72},{"s":"a","x":300,"l":0.4,"h":0.7},{"s":"a","x":350,"l":0.41,"h":0.67},{"s":"a","x":400,"l":0.39,"h":0.68},{"s":"a","x":450,"l":0.38,"h":0.66},{"s":"a","x":500,"l":0.38,"h":0.64},{"s":"a","x":550,"l":0.36,"h":0.63},{"s":"a","x":600,"l":0.36,"h":0.6},{"s":"a","x":650,"l":0.34,"h":0.6},{"s":"a","x":700,"l":0.33,"h":0.58},{"s":"a","x":750,"l":0.33,"h":0.56},{"s":"a","x":800,"l":0.31,"h":0.55},{"s":"a","x":850,"l":0.3,"h":0.54},{"s":"a","x":900,"l":0.29,"h":0.53},{"s":"a","x":950,"l":0.28,"h":0.51},{"s":"a","x":1000,"l":0.27,"h":0.5},{"s":"a","x":1050,"l":0.26,"h":0.49},{"s":"a","x":1100,"l":0.24,"h":0.48},{"s":"a","x":1150,"l":0.23,"h":0.46},{"s":"a","x":1200,"l":0.21,"h":0.45},{"s":"a","x":1250,"l":0.18,"h":0.43},{"s":"a","x":1300,"l":0.19,"h":0.42},{"s":"a","x":1350,"l":0.17,"h":0.41},{"s":"a","x":1400,"l":0.18,"h":0.4},{"s":"a","x":1450,"l":0.16,"h":0.39},{"s":"a","x":1500,"l":0.17,"h":0.38},{"s":"a","x":1550,"l":0.16,"h":0.37},{"s":"a","x":1600,"l":0.15,"h":0.37},{"s":"a","x":1650,"l":0.16,"h":0.36},{"s":"a","x":1700,"l":0.15,"h":0.35},{"s":"a","x":1750,"l":0.14,"h":0.36},{"s":"a","x":1775,"l":0.15,"h":1.15},{"s":"a","x":1790,"l":0.14,"h":0.35},{"s":"a","x":1800,"l":0.12,"h":0.34},{"s":"a","x":1850,"l":0.14,"h":0.33},{"s":"a","x":1900,"l":0.13,"h":0.33},{"s":"a","x":1950,"l":0.14,"h":0.32},{"s":"a","x":2000,"l":0.13,"h":0.31},{"s":"a","x":2050,"l":0.14,"h":0.31},{"s":"a","x":2100,"l":0.13,"h":0.3},{"s":"a","x":2150,"l":0.15,"h":0.3},{"s":"a","x":2200,"l":0.14,"h":0.3},{"s":"a","x":2250,"l":0.14,"h":0.29},{"s":"a","x":2300,"l":0.13,"h":0.3},{"s":"a","x":2350,"l":0.14,"h":0.29},{"s":"a","x":2400,"l":0.15,"h":0.29},{"s":"a","x":2450,"l":0.14,"h":0.29},{"s":"a","x":2500,"l":0.13,"h":0.28},{"s":"a","x":2550,"l":0.14,"h":0.29},{"s":"a","x":2600,"l":0.15,"h":0.28},{"s":"a","x":2650,"l":0.14,"h":0.29},{"s":"a","x":2700,"l":0.14,"h":0.28},{"s":"a","x":2750,"l":0.13,"h":0.28},{"s":"a","x":2800,"l":0.14,"h":0.29},{"s":"a","x":2850,"l":0.15,"h":0.28},{"s":"a","x":2900,"l":0.14,"h":0.28},{"s":"a","x":2950,"l":0.13,"h":0.29},{"s":"a","x":3000,"l":0.14,"h":0.28},{"s":"a","x":3050,"l":0.12,"h":0.28},{"s":"a","x":3100,"l":0.14,"h":0.28},{"s":"a","x":3150,"l":0.15,"h":0.27},{"s":"a","x":3200,"l":0.14,"h":0.28},{"s":"a","x":3250,"l":0.14,"h":0.28},{"s":"a","x":3300,"l":0.15,"h":0.28},{"s":"a","x":3350,"l":0.14,"h":0.27},{"s":"a","x":3400,"l":0.14,"h":0.28},{"s":"a","x":3450,"l":0.15,"h":0.28},{"s":"a","x":3500,"l":0.14,"h":0.28},{"s":"a","x":3550,"l":0.15,"h":0.28},{"s":"a","x":3600,"l":0.14,"h":0.29},{"s":"a","x":3650,"l":0.15,"h":0.28},{"s":"a","x":3700,"l":0.14,"h":0.28},{"s":"a","x":3750,"l":0.15,"h":0.29},{"s":"a","x":3800,"l":0.14,"h":0.28},{"s":"a","x":3850,"l":0.14,"h":0.29},{"s":"a","x":3900,"l":0.13,"h":0.28},{"s":"a","x":3950,"l":0.15,"h":0.29},{"s":"a","x":4000,"l":0.15,"h":0.3},{"s":"a","x":4050,"l":0.16,"h":0.3},{"s":"a","x":4100,"l":0.15,"h":0.31},{"s":"a","x":4150,"l":0.16,"h":0.31},{"s":"a","x":4200,"l":0.16,"h":0.32},{"s":"a","x":4250,"l":0.17,"h":0.31},{"s":"a","x":4300,"l":0.16,"h":0.32},{"s":"a","x":4350,"l":0.17,"h":0.33},{"s":"a","x":4400,"l":0.16,"h":0.32},{"s":"a","x":4450,"l":0.17,"h":0.33},{"s":"a","x":4500,"l":0.16,"h":0.33},{"s":"a","x":4550,"l":0.17,"h":0.32},{"s":"a","x":4600,"l":0.16,"h":0.33},{"s":"a","x":4650,"l":0.17,"h":0.34},{"s":"a","x":4700,"l":0.16,"h":0.33},{"s":"a","x":4750,"l":0.17,"h":0.34},{"s":"a","x":4800,"l":0.16,"h":0.33},{"s":"a","x":4850,"l":0.17,"h":0.34},{"s":"a","x":4900,"l":0.16,"h":0.34},{"s":"a","x":4950,"l":0.17,"h":0.33},{"s":"a","x":5000,"l":0.16,"h":0.34},{"s":"a","x":5050,"l":0.17,"h":0.35},{"s":"a","x":5100,"l":0.16,"h":0.34},{"s":"a","x":5150,"l":0.17,"h":0.35},{"s":"a","x":5200,"l":0.16,"h":0.34},{"s":"a","x":5250,"l":0.17,"h":0.35},{"s":"a","x":5300,"l":0.16,"h":0.35},{"s":"a","x":5350,"l":0.17,"h":0.34},{"s":"a","x":5400,"l":0.16,"h":0.35},{"s":"a","x":5450,"l":0.17,"h":0.36},{"s":"a","x":5500,"l":0.16,"h":0.35},{"s":"a","x":5550,"l":0.17,"h":0.36},{"s":"a","x":5600,"l":0.16,"h":0.35},{"s":"a","x":5650,"l":0.17,"h":0.36},{"s":"a","x":5700,"l":0.16,"h":0.36},{"s":"a","x":5750,"l":0.17,"h":0.35},{"s":"a","x":5800,"l":0.16,"h":0.36},{"s":"a","x":5850,"l":0.17,"h":0.37},{"s":"a","x":5900,"l":0.16,"h":0.36},{"s":"a","x":5915,"l":0.17,"h":0.5},{"s":"a","x":5930,"l":0.16,"h":0.36},{"s":"a","x":5950,"l":0.17,"h":0.37},{"s":"a","x":6000,"l":0.16,"h":0.36},{"s":"a","x":6050,"l":0.17,"h":0.37},{"s":"a","x":6100,"l":0.16,"h":0.38},{"s":"a","x":6150,"l":0.17,"h":0.37},{"s":"a","x":6200,"l":0.16,"h":0.38},{"s":"a","x":6250,"l":0.17,"h":0.37},{"s":"a","x":6300,"l":0.16,"h":0.38},{"s":"a","x":6350,"l":0.17,"h":0.39},{"s":"a","x":6370,"l":0.16,"h":0.52},{"s":"a","x":6390,"l":0.17,"h":0.38},{"s":"a","x":6450,"l":0.16,"h":0.39},{"s":"a","x":6500,"l":0.17,"h":0.38},{"s":"a","x":6550,"l":0.16,"h":0.4},{"s":"a","x":6600,"l":0.17,"h":0.39},{"s":"a","x":6650,"l":0.16,"h":0.56},{"s":"a","x":6670,"l":0.17,"h":0.39},{"s":"a","x":6700,"l":0.16,"h":0.38},{"s":"a","x":6750,"l":0.17,"h":0.39},{"s":"a","x":6800,"l":0.16,"h":0.38},{"s":"a","x":6850,"l":0.17,"h":0.39},{"s":"a","x":6900,"l":0.16,"h":0.38},{"s":"a","x":6950,"l":0.17,"h":0.39},{"s":"a","x":7000,"l":0.16,"h":0.38},{"s":"a","x":7050,"l":0.17,"h":0.39},{"s":"a","x":7100,"l":0.16,"h":0.4},{"s":"a","x":7150,"l":0.17,"h":0.39},{"s":"a","x":7200,"l":0.16,"h":0.39},{"s":"a","x":7250,"l":0.17,"h":0.38},{"s":"a","x":7300,"l":0.16,"h":0.39},{"s":"a","x":7350,"l":0.17,"h":0.4},{"s":"a","x":7400,"l":0.16,"h":0.39},{"s":"a","x":7450,"l":0.17,"h":0.38},{"s":"a","x":7500,"l":0.16,"h":0.39},{"s":"a","x":7550,"l":0.17,"h":0.4},{"s":"a","x":7600,"l":0.16,"h":0.39},{"s":"a","x":7650,"l":0.16,"h":0.38},{"s":"a","x":7700,"l":0.15,"h":0.39},{"s":"a","x":7750,"l":0.16,"h":0.4},{"s":"a","x":7800,"l":0.16,"h":0.39},{"s":"a","x":7850,"l":0.17,"h":0.4},{"s":"a","x":7900,"l":0.16,"h":0.41},{"s":"a","x":7950,"l":0.17,"h":0.4},{"s":"a","x":8000,"l":0.17,"h":0.42},{"s":"a","x":8050,"l":0.17,"h":0.5},{"s":"a","x":8100,"l":0.18,"h":0.42},{"s":"a","x":8150,"l":0.18,"h":0.67},{"s":"a","x":8200,"l":0.18,"h":0.43},{"s":"a","x":8250,"l":0.18,"h":0.45},{"s":"a","x":8300,"l":0.19,"h":0.44},{"s":"a","x":8350,"l":0.19,"h":0.81},{"s":"a","x":8400,"l":0.19,"h":0.46},{"s":"a","x":8450,"l":0.19,"h":1.45},{"s":"a","x":8470,"l":0.2,"h":0.47},{"s":"a","x":8500,"l":0.2,"h":0.5},{"s":"a","x":8570,"l":0.2,"h":1.1},{"s":"a","x":8600,"l":0.21,"h":0.55},{"s":"a","x":8650,"l":0.22,"h":0.6},{"s":"a","x":8700,"l":0.22,"h":0.55},{"s":"a","x":8750,"l":0.23,"h":0.9},{"s":"a","x":8800,"l":0.24,"h":0.58},{"s":"a","x":8850,"l":0.27,"h":0.5},{"s":"a","x":8880,"l":0.3,"h":0.6},{"s":"a","x":8900,"l":0.35,"h":1.3},{"s":"a","x":8920,"l":0.45,"h":4.5},{"s":"a","x":8950,"l":0.6,"h":4.5},{"s":"a","x":8980,"l":0.8,"h":5},{"s":"a","x":9000,"l":1.0,"h":5},{"s":"a","x":9030,"l":1.2,"h":5},{"s":"a","x":9060,"l":0.92,"h":5},{"s":"a","x":9090,"l":2.0,"h":5},
{"s":"b","x":0,"l":5,"h":9},{"s":"b","x":10,"l":3,"h":6},{"s":"b","x":20,"l":2.2,"h":3.0},{"s":"b","x":30,"l":1.3,"h":2.4},{"s":"b","x":40,"l":1.0,"h":2.5},{"s":"b","x":50,"l":0.85,"h":2.8},{"s":"b","x":75,"l":0.75,"h":2.3},{"s":"b","x":100,"l":0.7,"h":2.0},{"s":"b","x":125,"l":0.65,"h":1.8},{"s":"b","x":150,"l":0.6,"h":1.6},{"s":"b","x":175,"l":0.58,"h":1.6},{"s":"b","x":193,"l":0.6,"h":2.6},{"s":"b","x":207,"l":0.56,"h":1.5},{"s":"b","x":225,"l":0.6,"h":1.3},{"s":"b","x":250,"l":0.7,"h":1.35},{"s":"b","x":275,"l":0.72,"h":1.3},{"s":"b","x":300,"l":0.78,"h":1.4},{"s":"b","x":350,"l":0.8,"h":1.5},{"s":"b","x":400,"l":0.85,"h":1.6},{"s":"b","x":450,"l":0.9,"h":1.7},{"s":"b","x":500,"l":0.95,"h":1.8},{"s":"b","x":550,"l":0.98,"h":1.85},{"s":"b","x":600,"l":1.0,"h":2.0},{"s":"b","x":650,"l":0.98,"h":1.9},{"s":"b","x":700,"l":0.95,"h":1.75},{"s":"b","x":750,"l":0.92,"h":1.7},{"s":"b","x":800,"l":0.9,"h":1.6},{"s":"b","x":850,"l":0.85,"h":1.5},{"s":"b","x":900,"l":0.8,"h":1.4},{"s":"b","x":950,"l":0.76,"h":1.3},{"s":"b","x":1000,"l":0.72,"h":1.2},{"s":"b","x":1050,"l":0.68,"h":1.12},{"s":"b","x":1100,"l":0.64,"h":1.02},{"s":"b","x":1150,"l":0.6,"h":0.95},{"s":"b","x":1200,"l":0.57,"h":0.88},{"s":"b","x":1250,"l":0.54,"h":0.82},{"s":"b","x":1300,"l":0.52,"h":0.78},{"s":"b","x":1350,"l":0.49,"h":0.74},{"s":"b","x":1400,"l":0.47,"h":0.7},{"s":"b","x":1450,"l":0.45,"h":0.67},{"s":"b","x":1500,"l":0.44,"h":0.65},{"s":"b","x":1550,"l":0.42,"h":0.62},{"s":"b","x":1600,"l":0.41,"h":0.6},{"s":"b","x":1650,"l":0.4,"h":0.58},{"s":"b","x":1700,"l":0.39,"h":0.57},{"s":"b","x":1750,"l":0.38,"h":0.56},{"s":"b","x":1800,"l":0.37,"h":0.55},{"s":"b","x":1850,"l":0.36,"h":0.53},{"s":"b","x":1900,"l":0.36,"h":0.52},{"s":"b","x":1943,"l":0.35,"h":0.58},{"s":"b","x":1975,"l":0.35,"h":0.5},{"s":"b","x":2000,"l":0.34,"h":0.5},{"s":"b","x":2050,"l":0.34,"h":0.49},{"s":"b","x":2100,"l":0.33,"h":0.48},{"s":"b","x":2150,"l":0.33,"h":0.47},{"s":"b","x":2200,"l":0.32,"h":0.47},{"s":"b","x":2250,"l":0.32,"h":0.46},{"s":"b","x":2300,"l":0.31,"h":0.46},{"s":"b","x":2350,"l":0.31,"h":0.45},{"s":"b","x":2400,"l":0.3,"h":0.45},{"s":"b","x":2450,"l":0.3,"h":0.44},{"s":"b","x":2500,"l":0.3,"h":0.44},{"s":"b","x":2550,"l":0.29,"h":0.44},{"s":"b","x":2600,"l":0.29,"h":0.43},{"s":"b","x":2650,"l":0.29,"h":0.43},{"s":"b","x":2700,"l":0.29,"h":0.42},{"s":"b","x":2750,"l":0.28,"h":0.43},{"s":"b","x":2800,"l":0.29,"h":0.42},{"s":"b","x":2850,"l":0.28,"h":0.42},{"s":"b","x":2900,"l":0.28,"h":0.41},{"s":"b","x":2950,"l":0.28,"h":0.47},{"s":"b","x":3000,"l":0.28,"h":0.41},{"s":"b","x":3050,"l":0.285,"h":0.42},{"s":"b","x":3100,"l":0.28,"h":0.41},{"s":"b","x":3150,"l":0.29,"h":0.4},{"s":"b","x":3200,"l":0.28,"h":0.41},{"s":"b","x":3250,"l":0.285,"h":0.4},{"s":"b","x":3300,"l":0.28,"h":0.4},{"s":"b","x":3350,"l":0.28,"h":0.41},{"s":"b","x":3400,"l":0.285,"h":0.4},{"s":"b","x":3450,"l":0.28,"h":0.39},{"s":"b","x":3500,"l":0.28,"h":0.4},{"s":"b","x":3550,"l":0.285,"h":0.39},{"s":"b","x":3600,"l":0.28,"h":0.4},{"s":"b","x":3650,"l":0.28,"h":0.39},{"s":"b","x":3700,"l":0.285,"h":0.4},{"s":"b","x":3750,"l":0.28,"h":0.39},{"s":"b","x":3800,"l":0.28,"h":0.39},{"s":"b","x":3850,"l":0.285,"h":0.4},{"s":"b","x":3900,"l":0.28,"h":0.39},{"s":"b","x":3950,"l":0.28,"h":0.4},{"s":"b","x":4000,"l":0.285,"h":0.39},{"s":"b","x":4050,"l":0.28,"h":0.4},{"s":"b","x":4100,"l":0.285,"h":0.4},{"s":"b","x":4150,"l":0.29,"h":0.41},{"s":"b","x":4200,"l":0.285,"h":0.4},{"s":"b","x":4250,"l":0.29,"h":0.41},{"s":"b","x":4300,"l":0.285,"h":0.4},{"s":"b","x":4350,"l":0.29,"h":0.42},{"s":"b","x":4400,"l":0.285,"h":0.41},{"s":"b","x":4450,"l":0.29,"h":0.41},{"s":"b","x":4500,"l":0.285,"h":0.42},{"s":"b","x":4550,"l":0.29,"h":0.41},{"s":"b","x":4600,"l":0.285,"h":0.42},{"s":"b","x":4650,"l":0.29,"h":0.41},{"s":"b","x":4700,"l":0.285,"h":0.42},{"s":"b","x":4750,"l":0.29,"h":0.41},{"s":"b","x":4800,"l":0.285,"h":0.42},{"s":"b","x":4850,"l":0.29,"h":0.41},{"s":"b","x":4900,"l":0.285,"h":0.42},{"s":"b","x":4950,"l":0.29,"h":0.42},{"s":"b","x":5000,"l":0.285,"h":0.41},{"s":"b","x":5050,"l":0.29,"h":0.42},{"s":"b","x":5100,"l":0.285,"h":0.41},{"s":"b","x":5150,"l":0.29,"h":0.42},{"s":"b","x":5200,"l":0.285,"h":0.42},{"s":"b","x":5250,"l":0.29,"h":0.41},{"s":"b","x":5300,"l":0.285,"h":0.42},{"s":"b","x":5350,"l":0.29,"h":0.41},{"s":"b","x":5400,"l":0.285,"h":0.42},{"s":"b","x":5450,"l":0.29,"h":0.42},{"s":"b","x":5500,"l":0.285,"h":0.41},{"s":"b","x":5550,"l":0.29,"h":0.42},{"s":"b","x":5600,"l":0.285,"h":0.42},{"s":"b","x":5650,"l":0.29,"h":0.41},{"s":"b","x":5700,"l":0.285,"h":0.42},{"s":"b","x":5750,"l":0.29,"h":0.42},{"s":"b","x":5800,"l":0.285,"h":0.41},{"s":"b","x":5850,"l":0.29,"h":0.42},{"s":"b","x":5900,"l":0.29,"h":0.42},{"s":"b","x":5915,"l":0.3,"h":4.5},{"s":"b","x":5930,"l":0.29,"h":0.42},{"s":"b","x":5950,"l":0.29,"h":0.42},{"s":"b","x":6000,"l":0.29,"h":0.43},{"s":"b","x":6050,"l":0.295,"h":0.42},{"s":"b","x":6100,"l":0.29,"h":0.43},{"s":"b","x":6150,"l":0.295,"h":0.43},{"s":"b","x":6200,"l":0.29,"h":0.42},{"s":"b","x":6250,"l":0.295,"h":0.43},{"s":"b","x":6300,"l":0.29,"h":0.43},{"s":"b","x":6350,"l":0.295,"h":0.42},{"s":"b","x":6400,"l":0.29,"h":0.43},{"s":"b","x":6450,"l":0.295,"h":0.44},{"s":"b","x":6500,"l":0.29,"h":0.43},{"s":"b","x":6550,"l":0.3,"h":0.44},{"s":"b","x":6600,"l":0.295,"h":0.43},{"s":"b","x":6650,"l":0.3,"h":0.44},{"s":"b","x":6700,"l":0.295,"h":0.44},{"s":"b","x":6750,"l":0.3,"h":0.43},{"s":"b","x":6800,"l":0.3,"h":0.59},{"s":"b","x":6820,"l":0.3,"h":0.44},{"s":"b","x":6850,"l":0.3,"h":0.44},{"s":"b","x":6900,"l":0.3,"h":0.43},{"s":"b","x":6950,"l":0.3,"h":0.44},{"s":"b","x":7000,"l":0.3,"h":0.44},{"s":"b","x":7050,"l":0.305,"h":0.43},{"s":"b","x":7100,"l":0.3,"h":0.44},{"s":"b","x":7150,"l":0.305,"h":0.45},{"s":"b","x":7200,"l":0.3,"h":0.44},{"s":"b","x":7250,"l":0.305,"h":0.44},{"s":"b","x":7285,"l":0.3,"h":0.6},{"s":"b","x":7300,"l":0.305,"h":0.44},{"s":"b","x":7350,"l":0.3,"h":0.45},{"s":"b","x":7400,"l":0.305,"h":0.44},{"s":"b","x":7425,"l":0.31,"h":1.7},{"s":"b","x":7445,"l":0.305,"h":0.45},{"s":"b","x":7500,"l":0.31,"h":0.45},{"s":"b","x":7550,"l":0.305,"h":0.44},{"s":"b","x":7600,"l":0.31,"h":0.45},{"s":"b","x":7650,"l":0.305,"h":0.45},{"s":"b","x":7700,"l":0.31,"h":0.46},{"s":"b","x":7750,"l":0.31,"h":0.45},{"s":"b","x":7800,"l":0.31,"h":0.45},{"s":"b","x":7850,"l":0.315,"h":0.46},{"s":"b","x":7900,"l":0.31,"h":0.45},{"s":"b","x":7950,"l":0.315,"h":0.46},{"s":"b","x":8000,"l":0.31,"h":0.45},{"s":"b","x":8050,"l":0.315,"h":0.46},{"s":"b","x":8100,"l":0.315,"h":0.46},{"s":"b","x":8150,"l":0.32,"h":0.45},{"s":"b","x":8200,"l":0.315,"h":0.46},{"s":"b","x":8250,"l":0.32,"h":0.47},{"s":"b","x":8300,"l":0.32,"h":0.46},{"s":"b","x":8350,"l":0.32,"h":0.47},{"s":"b","x":8400,"l":0.325,"h":0.46},{"s":"b","x":8450,"l":0.32,"h":0.47},{"s":"b","x":8500,"l":0.325,"h":0.47},{"s":"b","x":8550,"l":0.33,"h":0.48},{"s":"b","x":8600,"l":0.325,"h":0.47},{"s":"b","x":8650,"l":0.33,"h":0.48},{"s":"b","x":8700,"l":0.335,"h":0.49},{"s":"b","x":8750,"l":0.34,"h":0.48},{"s":"b","x":8800,"l":0.34,"h":0.5},{"s":"b","x":8850,"l":0.35,"h":0.51},{"s":"b","x":8900,"l":0.37,"h":0.55},{"s":"b","x":8950,"l":0.4,"h":0.75},{"s":"b","x":8980,"l":0.5,"h":1.3},{"s":"b","x":9000,"l":0.6,"h":1.3},{"s":"b","x":9030,"l":0.85,"h":2.0},{"s":"b","x":9060,"l":0.9,"h":2.5},{"s":"b","x":9090,"l":1.5,"h":4.5},{"s":"b","x":9120,"l":2.5,"h":5},{"s":"b","x":9150,"l":4.5,"h":6}
]
},
"spacing":14.2,
"resolve":{"scale":{"color":"independent"}},
"vconcat":[
{"spacing":11,"resolve":{"scale":{"color":"independent"}},"hconcat":[
{
"width":526,"height":211,
"title":{"text":"Training and Validation Loss","offset":-3.3},
"encoding":{
 "color":{"field":"s","type":"nominal","scale":{"domain":["a","b","c","d","e"],"range":["#1f77b4","#ff7f0e","#2ca02c","#d62728","#ff0000"]},"legend":{"orient":"none","legendX":162,"legendY":4,"rowPadding":3.5,"labelExpr":"datum.value=='a'?'llm.c-pr711-new gpt3 125M train loss':datum.value=='b'?'llm.c-pr711-new gpt3 125M val loss':datum.value=='c'?'llm.c-pr711-old gpt3 125M train loss':datum.value=='d'?'llm.c-pr711-old gpt3 125M val loss':'OpenAI GPT-2 (124M) checkpoint val loss'","encode":{"symbols":{"update":{"fill":{"value":"transparent"},"stroke":{"signal":"datum.value=='a'?'#1f77b4':datum.value=='b'?'#ff7f0e':datum.value=='c'?'#2ca02c':datum.value=='d'?'#d62728':'#ff0000'"},"strokeWidth":{"signal":"datum.value=='e'?1.4:2"},"strokeDash":{"signal":"datum.value=='e'?[5.1,2.2]:[1,0]"},"opacity":{"signal":"datum.value=='e'?1:0.5"}}}}}}
},
"layer":[
 {"data":{"name":"trainloss"},"transform":[{"filter":"datum.s=='a'"}],"mark":{"type":"area","clip":true,"opacity":0.5},"encoding":{"x":{"field":"x","type":"quantitative","scale":{"domain":[-454,9500],"nice":false,"zero":false},"axis":{"title":"Step","values":[0,2000,4000,6000,8000],"format":"d"}},"y":{"field":"l","type":"quantitative","scale":{"type":"log","domain":[2.81,5],"nice":false},"axis":{"title":null,"values":[3,4,5],"labelExpr":"datum.value+'\u2009×\u200910⁰'","tickSize":2.8,"grid":false,"minExtent":60}},"y2":{"field":"h"}}},
 {"data":{"name":"valloss"},"transform":[{"filter":"datum.s=='b'"}],"mark":{"type":"line","clip":true,"opacity":0.5,"strokeWidth":2,"strokeJoin":"round"},"encoding":{"x":{"field":"x","type":"quantitative","scale":{"domain":[-454,9500],"nice":false,"zero":false}},"y":{"field":"y","type":"quantitative","scale":{"type":"log","domain":[2.81,5],"nice":false}}}},
 {"data":{"name":"trainloss"},"transform":[{"filter":"datum.s=='c'"}],"mark":{"type":"area","clip":true,"opacity":0.5},"encoding":{"x":{"field":"x","type":"quantitative","scale":{"domain":[-454,9500],"nice":false,"zero":false}},"y":{"field":"l","type":"quantitative","scale":{"type":"log","domain":[2.81,5],"nice":false}},"y2":{"field":"h"}}},
 {"data":{"name":"valloss"},"transform":[{"filter":"datum.s=='d'"}],"mark":{"type":"line","clip":true,"opacity":0.5,"strokeWidth":2,"strokeJoin":"round"},"encoding":{"x":{"field":"x","type":"quantitative","scale":{"domain":[-454,9500],"nice":false,"zero":false}},"y":{"field":"y","type":"quantitative","scale":{"type":"log","domain":[2.81,5],"nice":false}}}},
 {"data":{"values":[{"s":"e","y":3.43}]},"mark":{"type":"rule","clip":true,"strokeWidth":1.4,"strokeDash":[5.1,2.2]},"encoding":{"y":{"field":"y","type":"quantitative","scale":{"type":"log","domain":[2.81,5],"nice":false}}}}
]
},
{
"width":527,"height":211,
"title":{"text":"HellaSwag","offset":2.7},
"encoding":{
 "color":{"field":"s","type":"nominal","scale":{"domain":["a","b","c","d"],"range":["#1f77b4","#ff7f0e","#ff0000","#008000"]},"legend":{"orient":"bottom-right","offset":5,"labelExpr":"datum.value=='a'?'llm.c-pr711-new gpt3 125M':datum.value=='b'?'llm.c-pr711-old gpt3 125M':datum.value=='c'?'OpenAI GPT-2 (124M) checkpoint val loss':'OpenAI GPT-3 (124M) checkpoint val loss'","encode":{"symbols":{"update":{"fill":{"value":"transparent"},"stroke":{"signal":"datum.value=='a'?'#1f77b4':datum.value=='b'?'#ff7f0e':datum.value=='c'?'#ff0000':'#008000'"},"strokeWidth":{"signal":"datum.value=='c'||datum.value=='d'?1.4:2"},"strokeDash":{"signal":"datum.value=='c'||datum.value=='d'?[5.1,2.2]:[1,0]"},"opacity":{"value":1}}}}}}
},
"layer":[
 {"data":{"name":"hs"},"transform":[{"filter":"datum.s=='a'"}],"mark":{"type":"line","clip":true,"strokeWidth":2,"strokeJoin":"round"},"encoding":{"x":{"field":"x","type":"quantitative","scale":{"domain":[-184,9516],"nice":false,"zero":false},"axis":{"title":"Step","values":[0,2000,4000,6000,8000],"format":"d"}},"y":{"field":"y","type":"quantitative","scale":{"domain":[0.2342,0.3424],"nice":false,"zero":false},"axis":{"title":null,"values":[0.24,0.26,0.28,0.3,0.32,0.34],"format":".2f","minExtent":45}}}},
 {"data":{"name":"hs"},"transform":[{"filter":"datum.s=='b'"}],"mark":{"type":"line","clip":true,"strokeWidth":2,"strokeJoin":"round"},"encoding":{"x":{"field":"x","type":"quantitative","scale":{"domain":[-184,9516],"nice":false,"zero":false}},"y":{"field":"y","type":"quantitative","scale":{"domain":[0.2342,0.3424],"nice":false,"zero":false}}}},
 {"data":{"values":[{"s":"c","y":0.2949},{"s":"d","y":0.3372}]},"mark":{"type":"rule","clip":true,"strokeWidth":1.4,"strokeDash":[5.1,2.2]},"encoding":{"y":{"field":"y","type":"quantitative","scale":{"domain":[0.2342,0.3424],"nice":false,"zero":false}}}}
]
}
]},
{"spacing":11,"resolve":{"scale":{"color":"independent"}},"hconcat":[
{
"width":526,"height":212,
"title":{"text":"Learning Rate","offset":0.3},
"encoding":{
 "color":{"field":"s","type":"nominal","scale":{"domain":["a","b"],"range":["#1f77b4","#ff7f0e"]},"legend":{"orient":"bottom-right","offset":5,"labelExpr":"datum.value=='a'?'llm.c-pr711-new gpt3 125M':'llm.c-pr711-old gpt3 125M'","encode":{"symbols":{"update":{"fill":{"value":"transparent"},"stroke":{"signal":"datum.value=='a'?'#1f77b4':'#ff7f0e'"},"strokeWidth":{"value":2},"opacity":{"value":1}}}}}}
},
"layer":[
 {"data":{"name":"lr"},"transform":[{"filter":"datum.s=='a'"}],"mark":{"type":"line","clip":true,"strokeJoin":"round","strokeWidth":2},"encoding":{"x":{"field":"x","type":"quantitative","scale":{"domain":[-453,9490],"nice":false,"zero":false},"axis":{"title":"Step","values":[0,2000,4000,6000,8000],"format":"d"}},"y":{"field":"y","type":"quantitative","scale":{"type":"log","domain":[0.00000065,0.0094],"nice":false},"axis":{"title":null,"minExtent":60,"values":[0.0000007,0.0000008,0.0000009,0.000001,0.000002,0.000003,0.000004,0.000005,0.000006,0.000007,0.000008,0.000009,0.00001,0.00002,0.00003,0.00004,0.00005,0.00006,0.00007,0.00008,0.00009,0.0001,0.0002,0.0003,0.0004,0.0005,0.0006,0.0007,0.0008,0.0009,0.001,0.002,0.003,0.004,0.005,0.006,0.007,0.008,0.009],"labelExpr":"datum.value==0.000001?'10⁻⁶':datum.value==0.00001?'10⁻⁵':datum.value==0.0001?'10⁻⁴':datum.value==0.001?'10⁻³':''","tickSize":{"condition":{"test":"datum.value==0.000001||datum.value==0.00001||datum.value==0.0001||datum.value==0.001","value":4.9},"value":2.8},"gridOpacity":{"condition":{"test":"datum.value==0.000001||datum.value==0.00001||datum.value==0.0001||datum.value==0.001","value":0.5},"value":0}}}}},
 {"data":{"name":"lr"},"transform":[{"filter":"datum.s=='b'"}],"mark":{"type":"line","clip":true,"strokeJoin":"round","strokeWidth":2},"encoding":{"x":{"field":"x","type":"quantitative","scale":{"domain":[-453,9490],"nice":false,"zero":false}},"y":{"field":"y","type":"quantitative","scale":{"type":"log","domain":[0.00000065,0.0094],"nice":false}}}}
]
},
{
"width":527,"height":212,
"title":{"text":"Gradient Norm","offset":0.3},
"encoding":{
 "color":{"field":"s","type":"nominal","scale":{"domain":["a","b"],"range":["#1f77b4","#ff7f0e"]},"legend":{"orient":"bottom-right","offset":5,"symbolType":"M-1,-0.24H3V0.24H-1Z","symbolStrokeWidth":0,"symbolOpacity":0.5,"labelExpr":"datum.value=='a'?'llm.c-pr711-new gpt3 125M':'llm.c-pr711-old gpt3 125M'"}}
},
"layer":[
 {"data":{"name":"gn"},"transform":[{"filter":"datum.s=='a'"}],"mark":{"type":"area","clip":true,"opacity":0.5},"encoding":{"x":{"field":"x","type":"quantitative","scale":{"domain":[-460,9490],"nice":false,"zero":false},"axis":{"title":"Step","values":[0,2000,4000,6000,8000],"format":"d"}},"y":{"field":"l","type":"quantitative","scale":{"type":"log","domain":[0.0786,4.01],"nice":false},"axis":{"title":null,"minExtent":45,"values":[0.08,0.09,0.1,0.2,0.3,0.4,0.5,0.6,0.7,0.8,0.9,1,2,3,4],"labelExpr":"datum.value==0.1?'10⁻¹':datum.value==1?'10⁰':''","tickSize":{"condition":{"test":"datum.value==0.1||datum.value==1","value":4.9},"value":2.8},"gridOpacity":{"condition":{"test":"datum.value==0.1||datum.value==1","value":0.5},"value":0}}},"y2":{"field":"h"}}},
 {"data":{"name":"gn"},"transform":[{"filter":"datum.s=='b'"}],"mark":{"type":"area","clip":true,"opacity":0.5},"encoding":{"x":{"field":"x","type":"quantitative","scale":{"domain":[-460,9490],"nice":false,"zero":false}},"y":{"field":"l","type":"quantitative","scale":{"type":"log","domain":[0.0786,4.01],"nice":false}},"y2":{"field":"h"}}}
]
}
]}
]
}
